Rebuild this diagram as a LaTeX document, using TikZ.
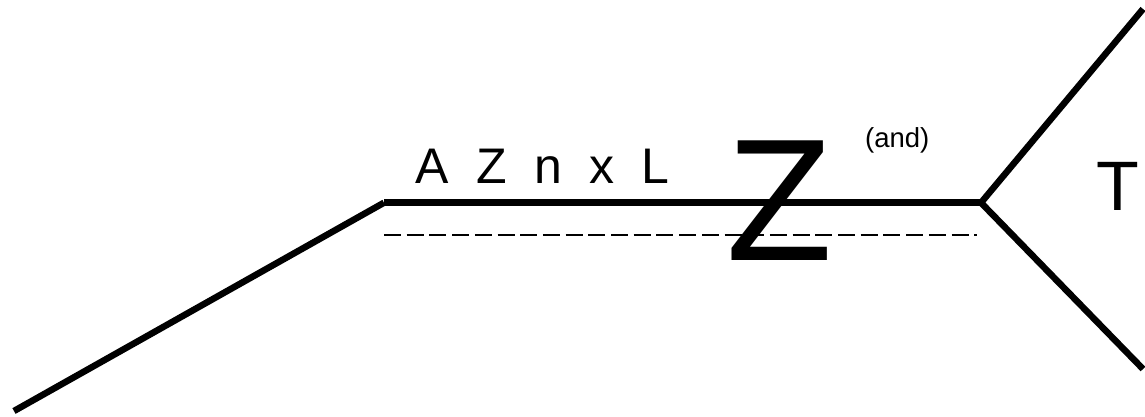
\documentclass[tikz,border=0pt]{standalone}
\usepackage{fontspec}
\setmainfont{Liberation Sans}
\begin{document}
\begin{tikzpicture}[x=1pt,y=-1pt,
  thick line/.style={line width=6.5pt,line join=miter},
  dash line/.style={line width=2.3pt,dash pattern=on 17pt off 5.7pt},
  lbl/.style={inner sep=0pt,anchor=base west}]
\useasboundingbox (0,0) rectangle (1145,416);
\coordinate (p1) at (14,411);
\coordinate (p2) at (384,202.7);
\coordinate (p3) at (981,202.7);
\coordinate (p4) at (1143,9);
\coordinate (p5) at (1143,369);
\coordinate (d1) at (384,235);
\coordinate (d2) at (977,235);
\draw[thick line] (p1) -- (p2);
\draw[thick line] (p2) -- (p3);
\draw[thick line] (p4) -- (p3) -- (p5);
\draw[dash line] (d1) -- (d2);
\node[lbl,font=\fontsize{50}{60}\selectfont] (row) at (415,183) {\spaceskip=27.5pt A Z n x L};
\node[lbl,font=\fontsize{174}{200}\selectfont] (bigz) at (726,260) {Z};
\node[lbl,font=\fontsize{27.5}{32}\selectfont] (and) at (865,147) {(and)};
\node[lbl,font=\fontsize{70}{80}\selectfont] (t) at (1096.5,210) {T};
\end{tikzpicture}
\end{document}
